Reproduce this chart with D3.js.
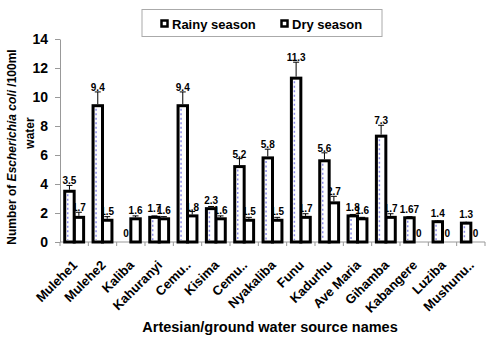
<!DOCTYPE html>
<html>
<head>
<meta charset="utf-8">
<script src="https://cdn.jsdelivr.net/npm/d3@7"></script>
<style>
  body { margin: 0; background: #fff; }
  text { font-family: Arial, "Liberation Sans", sans-serif; font-weight: bold; }
</style>
</head>
<body>
<div id="chart"></div>
<script>
// data
const sources = ["Mulehe1", "Mulehe2", "Kaliba", "Kahuranyi", "Cemu..", "Kisima", "Cemu..",
  "Nyakaliba", "Funu", "Kadurhu", "Ave Maria", "Gihamba", "Kabangere", "Luziba", "Mushunu.."];
const rainy    = [3.5, 9.4, 0, 1.7, 9.4, 2.3, 5.2, 5.8, 11.3, 5.6, 1.8, 7.3, 1.67, 1.4, 1.3];
const rainyErr = [0.4, 0.95, 0, 0.1, 0.95, 0.15, 0.55, 0.6, 1.1, 0.55, 0.1, 0.75, 0.08, 0.05, 0.05];
const dry      = [1.7, 1.5, 1.6, 1.6, 1.8, 1.6, 1.5, 1.5, 1.7, 2.7, 1.6, 1.7, 0, 0, 0];
const dryErr   = [0.35, 0.25, 0.2, 0.15, 0.3, 0.2, 0.2, 0.2, 0.25, 0.45, 0.1, 0.25, 0, 0, 0];
const seriesNames = ["Rainy season", "Dry season"];
const yTicks = [0, 2, 4, 6, 8, 10, 12, 14];

(function chart(){
  let width = 500, height = 338,
      margin = ({ top: 39, right: 15, bottom: 96, left: 60 });

  const svg = d3.select("#chart")
    .append("svg")
    .attr("width", width)
    .attr("height", height);

  const x = d3.scaleBand()
    .domain(d3.range(sources.length))
    .range([margin.left, width - margin.right])
    .padding(0);

  // two bars per source, side by side
  const xs = d3.scaleBand()
    .domain(seriesNames)
    .range([0, x.bandwidth()])
    .paddingInner(0)
    .paddingOuter(0.5);

  const y = d3.scaleLinear()
    .domain([0, 14])
    .range([height - margin.bottom, margin.top]);

  const rows = sources.map((s, i) => ({
    i: i,
    vals: [
      { key: "Rainy season", v: rainy[i], e: rainyErr[i] },
      { key: "Dry season", v: dry[i], e: dryErr[i] }
    ]
  }));
  const flat = rows.flatMap(r => r.vals.map(d => Object.assign({ i: r.i }, d)));
  const cx = d => x(d.i) + xs(d.key) + xs.bandwidth() / 2;
  const labelY = d => Math.min(y(d.v) - 5, y(d.v + d.e) - 1);

  // y axis
  const yAxis = svg.append("g")
    .attr("transform", `translate(${margin.left},0)`)
    .call(d3.axisLeft(y).tickValues(yTicks).tickSize(5).tickSizeOuter(0).tickPadding(7));
  yAxis.select(".domain").attr("stroke", "#999");
  yAxis.selectAll(".tick line").attr("stroke", "#999");
  yAxis.selectAll(".tick text")
    .style("font-size", "14px")
    .attr("fill", "#000");

  // x axis line and tick marks at band edges
  const xAxis = svg.append("g");
  xAxis.append("line")
    .attr("x1", x.range()[0]).attr("x2", x.range()[1])
    .attr("y1", y(0)).attr("y2", y(0))
    .attr("stroke", "#999");
  xAxis.selectAll("line.tk")
    .data(d3.range(sources.length + 1))
    .join("line")
    .attr("class", "tk")
    .attr("x1", i => i < sources.length ? x(i) : x.range()[1])
    .attr("x2", i => i < sources.length ? x(i) : x.range()[1])
    .attr("y1", y(0)).attr("y2", y(0) + 4)
    .attr("stroke", "#999");
  xAxis.selectAll("text")
    .data(sources)
    .join("text")
    .attr("transform", (d, i) => `translate(${x(i) + x.bandwidth() / 2 + 4},${y(0) + 24}) rotate(-45)`)
    .attr("text-anchor", "end")
    .style("font-size", "13px")
    .text(d => d);

  // dry season labels go under the bars, so tall rainy bars hide part of them
  svg.append("g")
    .selectAll("text")
    .data(flat.filter(d => d.key == "Dry season"))
    .join("text")
    .attr("x", cx)
    .attr("y", labelY)
    .attr("text-anchor", "middle")
    .style("font-size", "10px")
    .text(d => String(d.v));

  // bars
  svg.append("g")
    .selectAll("rect")
    .data(flat.slice().reverse())
    .join("rect")
    .attr("x", d => x(d.i) + xs(d.key))
    .attr("y", d => y(d.v))
    .attr("width", xs.bandwidth())
    .attr("height", d => y(0) - y(d.v))
    .attr("fill", "#fff")
    .attr("stroke", "#000")
    .attr("stroke-width", 3);

  // dotted blue streak inside the rainy bars
  svg.append("g")
    .selectAll("line")
    .data(flat.filter(d => d.key == "Rainy season" && d.v > 0))
    .join("line")
    .attr("x1", d => x(d.i) + xs(d.key) + 3)
    .attr("x2", d => x(d.i) + xs(d.key) + 3)
    .attr("y1", d => y(d.v) + 3)
    .attr("y2", y(0) - 2)
    .attr("stroke", "#8c8ce6")
    .attr("stroke-width", 1.5)
    .attr("stroke-dasharray", "2,2.5");

  // error bars (upper only)
  const err = svg.append("g")
    .selectAll("g")
    .data(flat.filter(d => d.e > 0))
    .join("g");
  err.append("line")
    .attr("x1", cx).attr("x2", cx)
    .attr("y1", d => y(d.v) - 1.5)
    .attr("y2", d => y(d.v + d.e))
    .attr("stroke", "#000");
  err.append("line")
    .attr("x1", d => cx(d) - 3).attr("x2", d => cx(d) + 3)
    .attr("y1", d => y(d.v + d.e))
    .attr("y2", d => y(d.v + d.e))
    .attr("stroke", "#000");

  // rainy season labels
  svg.append("g")
    .selectAll("text")
    .data(flat.filter(d => d.key == "Rainy season"))
    .join("text")
    .attr("x", cx)
    .attr("y", labelY)
    .attr("text-anchor", "middle")
    .style("font-size", "10px")
    .text(d => String(d.v));

  // legend
  const legend = svg.append("g");
  legend.append("rect")
    .attr("x", 142).attr("y", 9.5).attr("width", 240).attr("height", 27)
    .attr("fill", "#fff").attr("stroke", "#aaa");
  const items = legend.selectAll("g")
    .data(seriesNames)
    .join("g")
    .attr("transform", (d, i) => `translate(${[161, 281][i]},24)`);
  items.append("rect")
    .attr("x", 0.5).attr("y", -3.5).attr("width", 6).attr("height", 6)
    .attr("fill", "#fff").attr("stroke", "#000").attr("stroke-width", 2.5);
  items.append("text")
    .attr("x", 11).attr("y", 5)
    .style("font-size", "13px")
    .text(d => d);

  // axis titles
  const yt = svg.append("text")
    .attr("transform", "translate(16,147) rotate(-90)")
    .attr("text-anchor", "middle")
    .style("font-size", "12px");
  yt.append("tspan").text("Number of ");
  yt.append("tspan").style("font-style", "italic").text("Escherichia coli");
  yt.append("tspan").text(" /100ml");
  svg.append("text")
    .attr("transform", "translate(34,133) rotate(-90)")
    .attr("text-anchor", "middle")
    .style("font-size", "12px")
    .text("water");

  svg.append("text")
    .attr("x", 270).attr("y", 332)
    .attr("text-anchor", "middle")
    .style("font-size", "14.5px")
    .text("Artesian/ground water source names");
})();
</script>
</body>
</html>
